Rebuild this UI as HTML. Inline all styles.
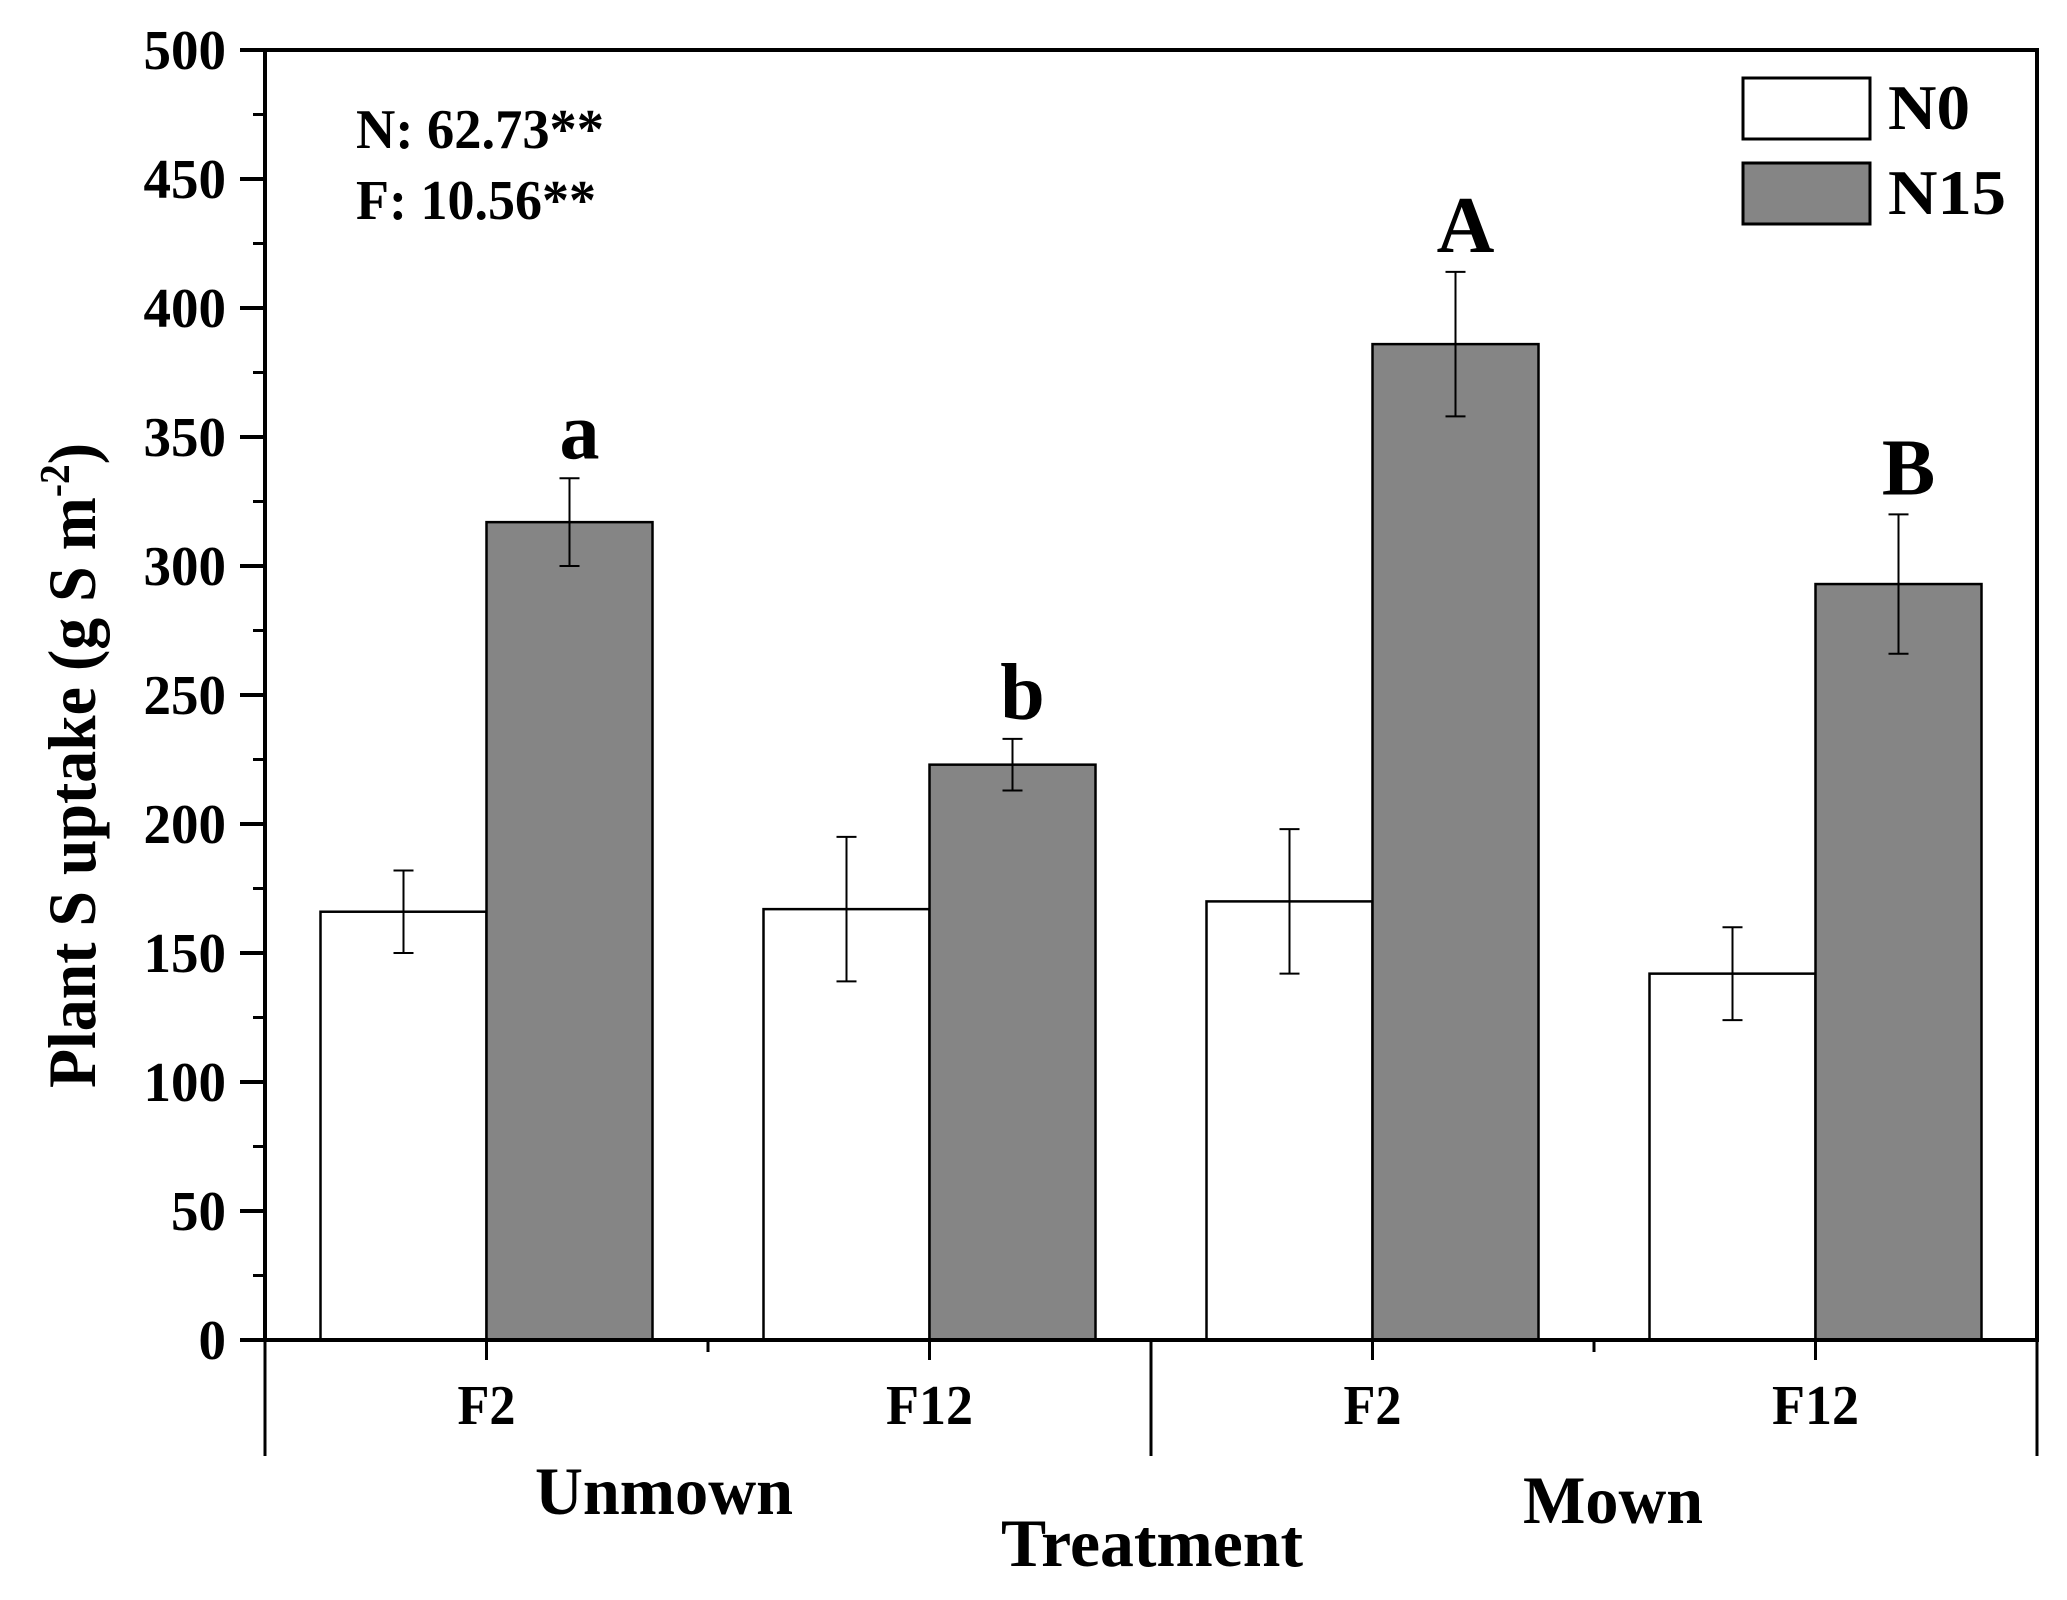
<!DOCTYPE html>
<html><head><meta charset="utf-8"><style>
html,body{margin:0;padding:0;background:#fff}
svg{display:block}
text{font-family:"Liberation Serif",serif;font-weight:bold;fill:#000}
</style></head><body>
<svg id="chart" width="2067" height="1600" viewBox="0 0 2067 1600" xmlns="http://www.w3.org/2000/svg">
<rect width="2067" height="1600" fill="#fff"/>
<g id="bars"></g>
<g id="axes"></g>
<text transform="translate(95,1088) rotate(-90)" font-size="68" textLength="645" lengthAdjust="spacingAndGlyphs">Plant S uptake (g S m<tspan font-size="42" dy="-26">-2</tspan><tspan dy="26">)</tspan></text>
<text x="356" y="148" font-size="56" textLength="248" lengthAdjust="spacingAndGlyphs">N: 62.73**</text>
<text x="356" y="219" font-size="56" textLength="240" lengthAdjust="spacingAndGlyphs">F: 10.56**</text>
<rect x="1743" y="78" width="127" height="61" fill="#fff" stroke="#000" stroke-width="3"/>
<rect x="1743" y="163" width="127" height="61" fill="#858585" stroke="#000" stroke-width="3"/>
<text x="1888" y="129" font-size="64" textLength="82" lengthAdjust="spacingAndGlyphs">N0</text>
<text x="1888" y="214" font-size="64" textLength="118" lengthAdjust="spacingAndGlyphs">N15</text>
<text x="664" y="1514" font-size="68" text-anchor="middle" textLength="258" lengthAdjust="spacingAndGlyphs">Unmown</text>
<text x="1613" y="1523" font-size="68" text-anchor="middle" textLength="180" lengthAdjust="spacingAndGlyphs">Mown</text>
<text x="1152" y="1566" font-size="68" text-anchor="middle" textLength="302" lengthAdjust="spacingAndGlyphs">Treatment</text>
</svg>
<script>
const categories = ["F2","F12","F2","F12"];
const n0Values = [166,167,170,142];
const n0Errors = [16,28,28,18];
const n15Values = [317,223,386,293];
const n15Errors = [17,10,28,27];
const sigLetters = ["a","b","A","B"];
const yTicks = [0,50,100,150,200,250,300,350,400,450,500];

const NS="http://www.w3.org/2000/svg";
const L=265,R=2037,T=50,B=1340,YMAX=500;
const step=(R-L)/categories.length, bw=166;
function y(v){return B-(v/YMAX)*(B-T);}
function xc(i){return L+step*(i+0.5);}
function mk(tag,attrs,parent){const e=document.createElementNS(NS,tag);for(const k in attrs)e.setAttribute(k,attrs[k]);parent.appendChild(e);return e;}
const bars=document.getElementById('bars'), axes=document.getElementById('axes');

function drawBar(i,v,err,x0,fill,name){
  const r=mk('rect',{x:x0,y:y(v),width:bw,height:B-y(v),fill:fill,stroke:'#000','stroke-width':2.5},bars);
  
  
  const cx=x0+bw/2;
  const g=mk('g',{stroke:'#000','stroke-width':2},bars);
  
  
  mk('line',{x1:cx,x2:cx,y1:y(v+err),y2:y(v-err)},g);
  mk('line',{x1:cx-10,x2:cx+10,y1:y(v+err),y2:y(v+err)},g);
  mk('line',{x1:cx-10,x2:cx+10,y1:y(v-err),y2:y(v-err)},g);
}
categories.forEach((c,i)=>{
  drawBar(i,n0Values[i],n0Errors[i],xc(i)-bw,'#fff','bar-n0-'+i);
  drawBar(i,n15Values[i],n15Errors[i],xc(i),'#858585','bar-n15-'+i);
  const t=mk('text',{x:xc(i)+bw/2+10,y:y(n15Values[i]+n15Errors[i])-20,'font-size':80,'text-anchor':'middle'},bars);
  t.textContent=sigLetters[i];
  
  
  const cl=mk('text',{x:xc(i),y:1424,'font-size':56,'text-anchor':'middle',textLength:c.length*29,lengthAdjust:'spacingAndGlyphs'},axes);
  cl.textContent=c;
  
  
  mk('line',{x1:xc(i),x2:xc(i),y1:B,y2:B+20,stroke:'#000','stroke-width':3},axes);
});
const fr=mk('rect',{x:L,y:T,width:R-L,height:B-T,fill:'none',stroke:'#000','stroke-width':4},axes);


yTicks.forEach((v,i)=>{
  mk('line',{x1:L-25,x2:L,y1:y(v),y2:y(v),stroke:'#000','stroke-width':4},axes);
  if(i<yTicks.length-1){const m=(v+yTicks[i+1])/2;mk('line',{x1:L-12,x2:L,y1:y(m),y2:y(m),stroke:'#000','stroke-width':3},axes);}
  const s=String(v);
  const t=mk('text',{x:226,y:y(v)+19,'font-size':56,'text-anchor':'end',textLength:s.length*27.5,lengthAdjust:'spacingAndGlyphs'},axes);
  t.textContent=s;
  
  
});
[L,(L+R)/2,R].forEach(x=>mk('line',{x1:x,x2:x,y1:B,y2:1456,stroke:'#000','stroke-width':3},axes));
[L+step,L+3*step].forEach(x=>mk('line',{x1:x,x2:x,y1:B,y2:B+12,stroke:'#000','stroke-width':3},axes));
</script>
</body></html>
